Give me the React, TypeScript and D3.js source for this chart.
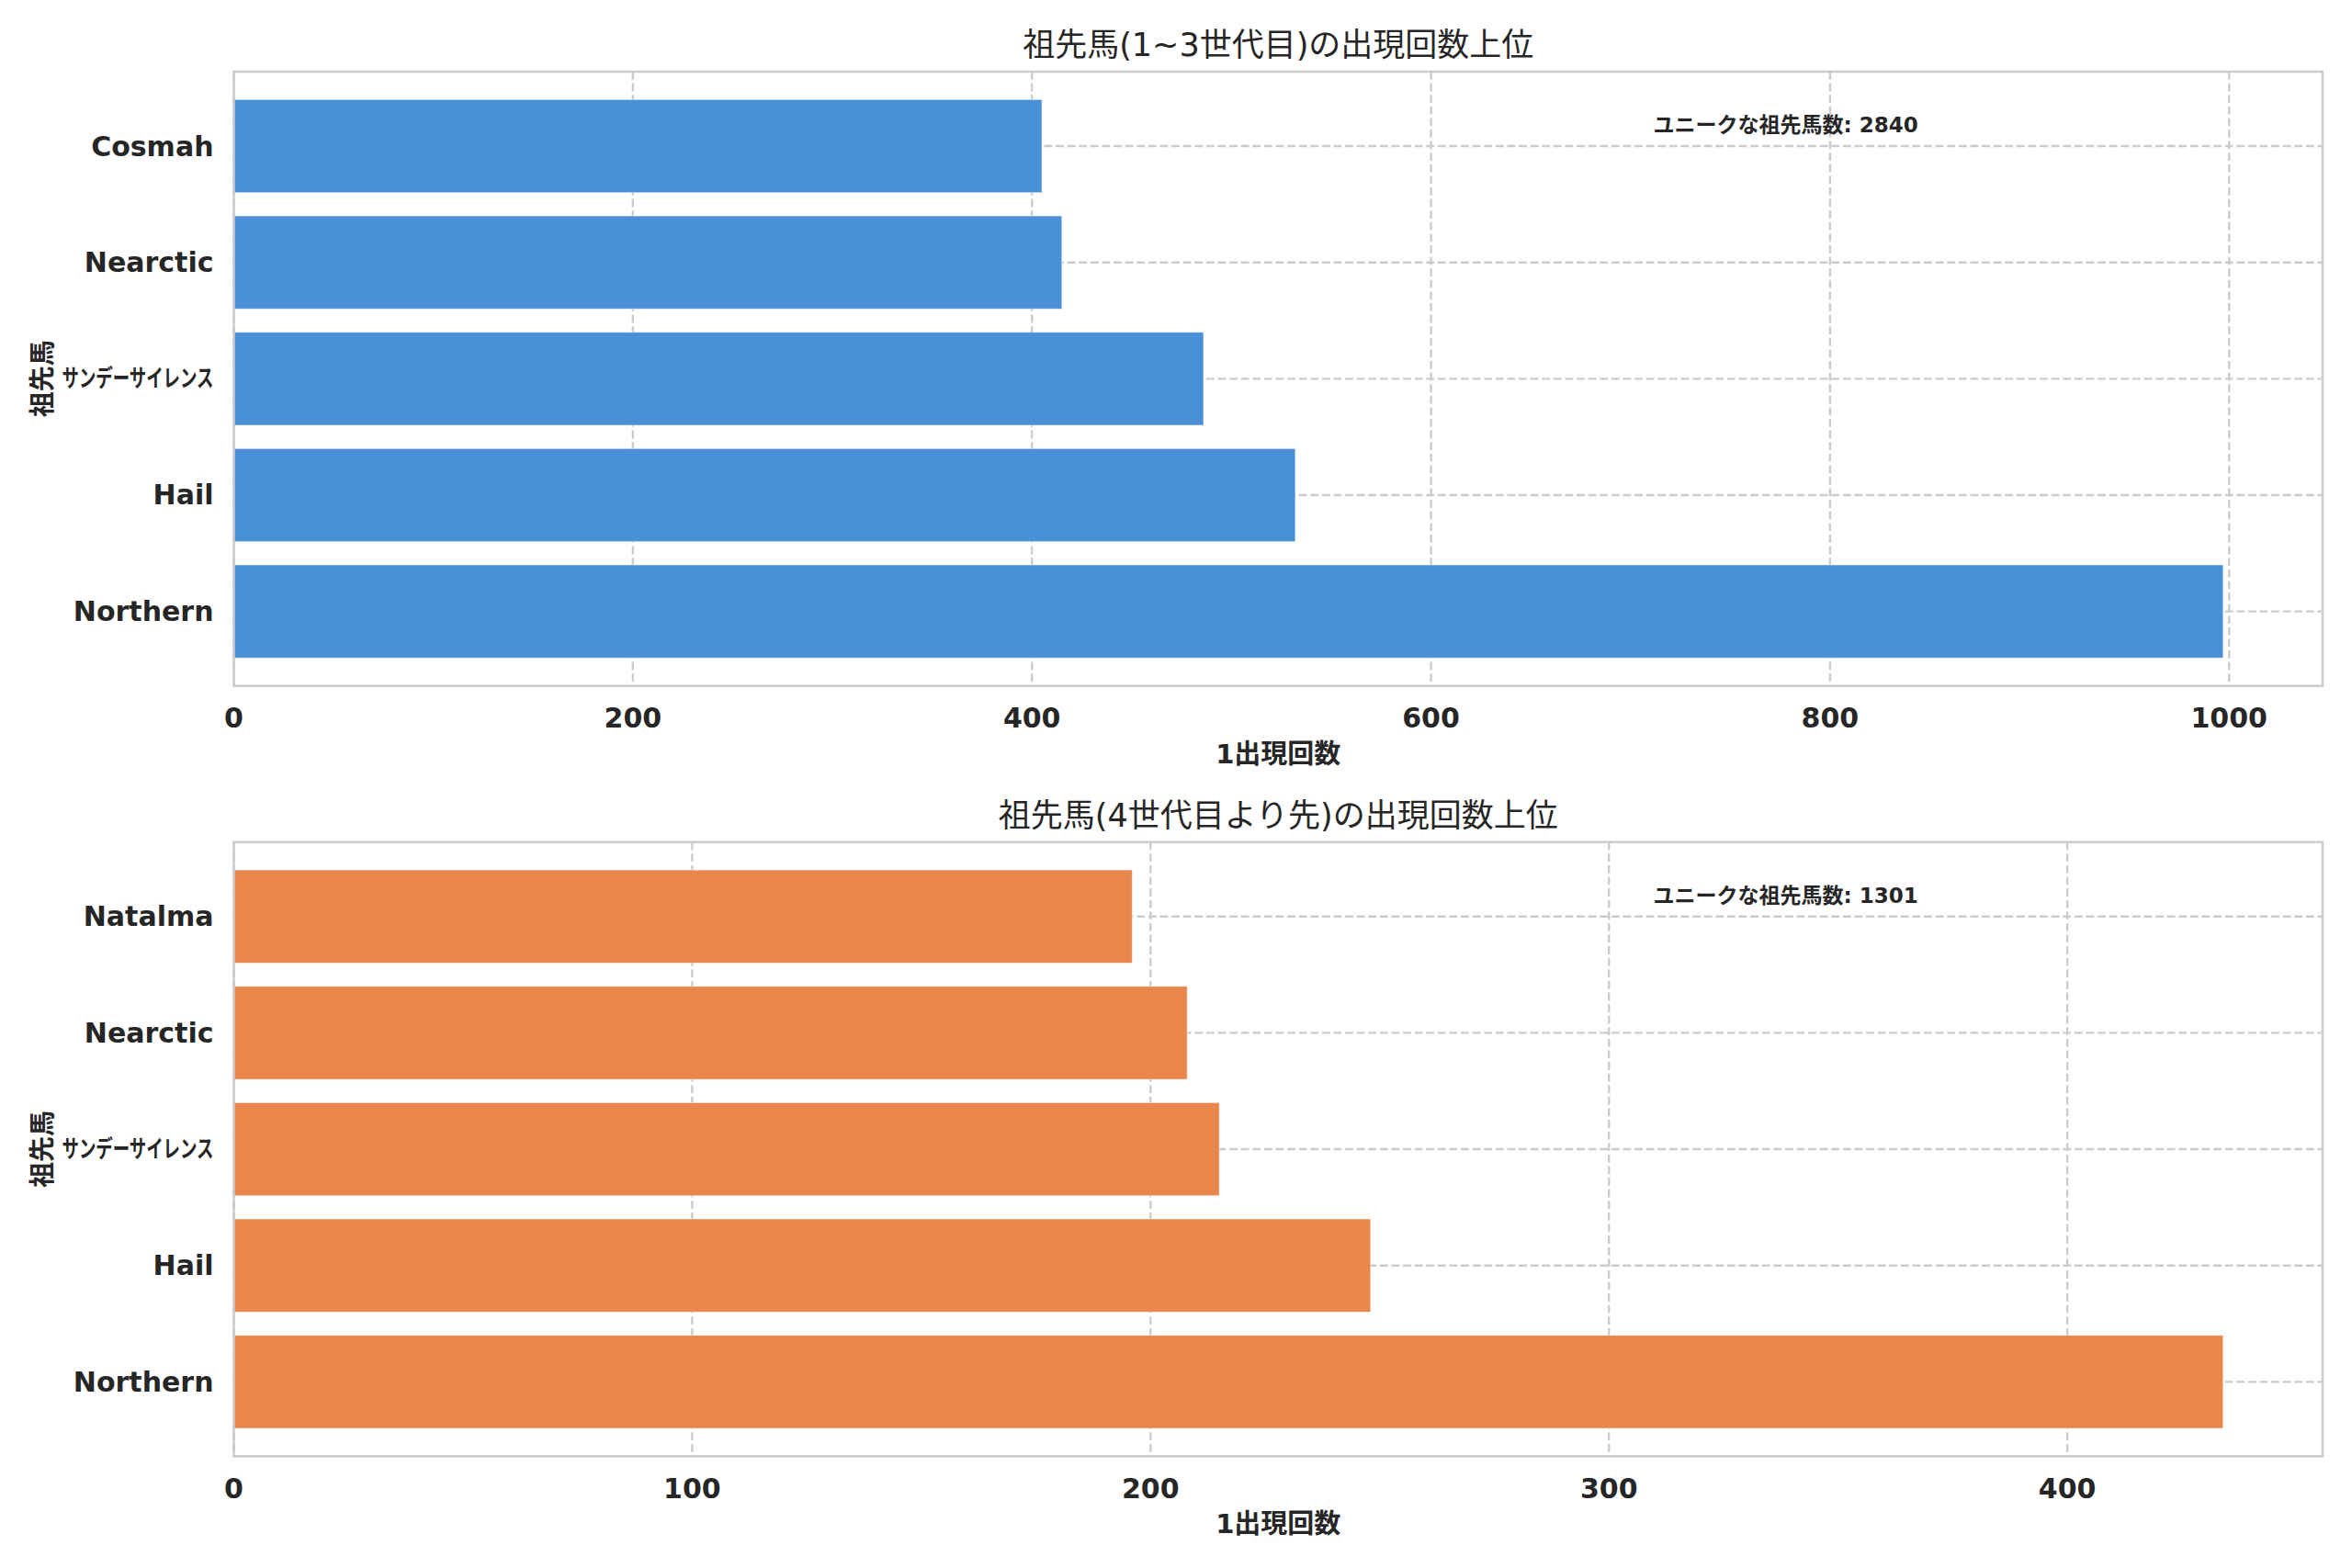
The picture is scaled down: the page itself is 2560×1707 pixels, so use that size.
import * as d3 from 'd3';

// 上段: 1~3世代目
const topNames = ['Cosmah', 'Nearctic', 'サンデーサイレンス', 'Hail', 'Northern'];
const topCounts = [405, 415, 486, 532, 997];
const topTicks = [0, 200, 400, 600, 800, 1000];

// 下段: 4世代目以降
const bottomNames = ['Natalma', 'Nearctic', 'サンデーサイレンス', 'Hail', 'Northern'];
const bottomCounts = [196, 208, 215, 248, 434];
const bottomTicks = [0, 100, 200, 300, 400];

const titles = ['祖先馬(1~3世代目)の出現回数上位', '祖先馬(4世代目より先)の出現回数上位'];
const totals = [2840, 1301];
const totalLabel = 'ユニークな祖先馬数';
const xLabel = '1出現回数';
const yLabel = '祖先馬';

const W = 2560;
const H = 1707;
const axLeft = 254.5;
const axRight = 2528;
const axHeight = 668.7;
const textColor = '#262626';
const gridColor = '#cccccc';
const font = '"DejaVu Sans", "Noto Sans CJK JP", sans-serif';

interface PanelProps {
  names: string[];
  counts: number[];
  ticks: number[];
  title: string;
  total: number;
  color: string;
  top: number;
}

const Panel = ({ names, counts, ticks, title, total, color, top }: PanelProps) => {
  const bottom = top + axHeight;
  const n = names.length;
  const x = d3.scaleLinear()
    .domain([0, (d3.max(counts) as number) * 1.05])
    .range([axLeft, axRight]);
  // matplotlib風の余白 (バー高さ0.8 + 5%マージン)
  const pad = 0.4 + 0.05 * (n - 1 + 0.8);
  const y = d3.scaleLinear().domain([-pad, n - 1 + pad]).range([bottom, top]);
  const pos = (i: number) => n - 1 - i;
  const barH = y(0) - y(0.8);

  return (
    <g>
      {/* グリッド */}
      {ticks.map(t => (
        <line key={'gx' + t} x1={x(t)} x2={x(t)} y1={top} y2={bottom}
          stroke={gridColor} strokeWidth={2.4} strokeDasharray="8.8 3.8" />
      ))}
      {names.map((nm, i) => (
        <line key={'gy' + i} x1={axLeft} x2={axRight} y1={y(pos(i))} y2={y(pos(i))}
          stroke={gridColor} strokeWidth={2.4} strokeDasharray="8.8 3.8" />
      ))}

      {/* バー */}
      {counts.map((c, i) => (
        <rect key={'b' + i} x={x(0)} y={y(pos(i)) - barH / 2} width={x(c) - x(0)} height={barH}
          fill={color} stroke="#ffffff" strokeOpacity={0.5} strokeWidth={1} />
      ))}

      {/* 枠 */}
      <rect x={axLeft} y={top} width={axRight - axLeft} height={axHeight}
        fill="none" stroke={gridColor} strokeWidth={2.5} />

      {/* x目盛ラベル */}
      {ticks.map(t => (
        <text key={'tx' + t} x={x(t)} y={bottom + 35} textAnchor="middle" dominantBaseline="central"
          fontSize={30} fontWeight="bold" fill={textColor}>{t}</text>
      ))}

      {/* y目盛ラベル */}
      {names.map((nm, i) => {
        const cjk = /[^\x00-\x7f]/.test(nm);
        return (
          <text key={'ty' + i} x={axLeft - 22} y={y(pos(i))} textAnchor="end" dominantBaseline="central"
            fontSize={cjk ? 26 : 30} fontWeight="bold" fill={textColor}
            {...(cjk ? { textLength: 165, lengthAdjust: 'spacingAndGlyphs' } : {})}>{nm}</text>
        );
      })}

      {/* タイトル */}
      <text x={(axLeft + axRight) / 2} y={top - 29} textAnchor="middle" dominantBaseline="central"
        fontSize={35} fill={textColor}>{title}</text>

      {/* 軸ラベル */}
      <text x={(axLeft + axRight) / 2} y={bottom + 74} textAnchor="middle" dominantBaseline="central"
        fontSize={29} fontWeight="bold" fill={textColor}>{xLabel}</text>
      <text transform={`translate(46,${(top + bottom) / 2}) rotate(-90)`} textAnchor="middle"
        dominantBaseline="central" fontSize={28} fontWeight="bold" fill={textColor}>{yLabel}</text>

      {/* 注記 */}
      <text x={axLeft + 0.743 * (axRight - axLeft)} y={top + 58} textAnchor="middle" dominantBaseline="central"
        fontSize={23} fontWeight="bold" fill={textColor}>{`${totalLabel}: ${total}`}</text>
    </g>
  );
};

export default function App() {
  return (
    <svg width={W} height={H} viewBox={`0 0 ${W} ${H}`}
      style={{ position: 'absolute', left: 0, top: 0, background: '#ffffff', fontFamily: font }}>
      <rect x={0} y={0} width={W} height={H} fill="#ffffff" />
      <Panel names={topNames} counts={topCounts} ticks={topTicks} title={titles[0]}
        total={totals[0]} color="#4a90d9" top={78} />
      <Panel names={bottomNames} counts={bottomCounts} ticks={bottomTicks} title={titles[1]}
        total={totals[1]} color="#e8864b" top={916.7} />
    </svg>
  );
}
